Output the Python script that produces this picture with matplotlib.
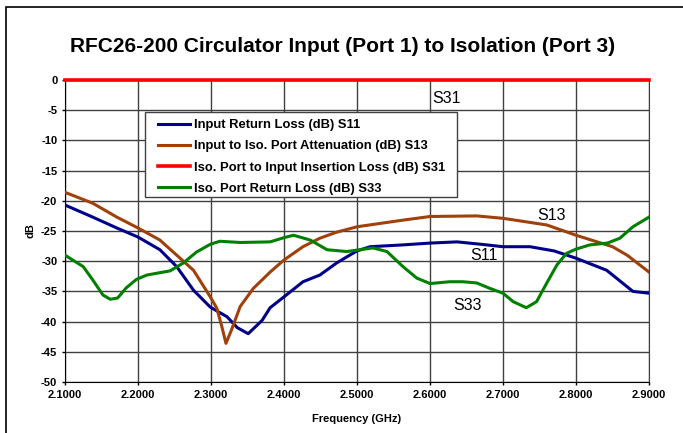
import numpy as np
import matplotlib.pyplot as plt
from matplotlib.patches import Rectangle

plt.rcParams['font.family'] = ['Liberation Sans', 'DejaVu Sans']
plt.rcParams['axes.unicode_minus'] = False

# S11 - input return loss
f_s11 = [2.100, 2.138, 2.171, 2.200, 2.230, 2.253, 2.276, 2.299, 2.322, 2.336, 2.351,
         2.370, 2.381, 2.400, 2.426, 2.449, 2.472, 2.490, 2.500, 2.518, 2.563, 2.600,
         2.637, 2.670, 2.700, 2.737, 2.770, 2.800, 2.842, 2.878, 2.900]
s11 = [-20.7, -22.7, -24.5, -26.0, -28.1, -30.9, -34.8, -37.6, -39.2, -41.0, -42.0,
       -39.8, -37.7, -35.9, -33.4, -32.3, -30.3, -29.0, -28.3, -27.6, -27.3, -27.0,
       -26.8, -27.2, -27.6, -27.6, -28.3, -29.5, -31.5, -35.0, -35.3]

# S13 - input to iso. port attenuation
f_s13 = [2.100, 2.138, 2.171, 2.200, 2.230, 2.253, 2.276, 2.299, 2.308, 2.315, 2.3205,
         2.328, 2.340, 2.358, 2.381, 2.400, 2.426, 2.449, 2.472, 2.500, 2.563, 2.600,
         2.664, 2.700, 2.760, 2.800, 2.850, 2.870, 2.900]
s13 = [-18.6, -20.4, -22.7, -24.5, -26.5, -29.0, -31.5, -35.9, -37.8, -40.9, -43.6,
       -41.4, -37.5, -34.5, -31.8, -29.8, -27.6, -26.2, -25.2, -24.3, -23.2, -22.6,
       -22.5, -22.9, -24.0, -25.7, -27.6, -29.0, -31.8]

# S31 - iso. port to input insertion loss
f_s31 = [2.100, 2.900]
s31 = [0.0, 0.0]

# S33 - iso. port return loss
f_s33 = [2.100, 2.125, 2.138, 2.152, 2.162, 2.172, 2.184, 2.198, 2.212, 2.230, 2.244,
         2.262, 2.280, 2.299, 2.312, 2.340, 2.381, 2.400, 2.413, 2.436, 2.459, 2.486,
         2.522, 2.541, 2.563, 2.582, 2.600, 2.627, 2.645, 2.664, 2.682, 2.700, 2.714,
         2.732, 2.746, 2.760, 2.774, 2.787, 2.800, 2.819, 2.843, 2.860, 2.878, 2.900]
s33 = [-29.0, -30.9, -33.1, -35.6, -36.3, -36.1, -34.4, -33.0, -32.3, -31.9, -31.6,
       -30.3, -28.5, -27.2, -26.7, -26.9, -26.8, -26.1, -25.7, -26.5, -28.1, -28.4,
       -27.8, -28.4, -30.9, -32.8, -33.7, -33.4, -33.4, -33.6, -34.5, -35.3, -36.7,
       -37.7, -36.7, -33.6, -30.6, -28.7, -28.0, -27.3, -27.0, -26.2, -24.3, -22.7]

labels = ['Input Return Loss (dB) S11',
          'Input to Iso. Port Attenuation (dB) S13',
          'Iso. Port to Input Insertion Loss (dB) S31',
          'Iso. Port Return Loss (dB) S33']
colors = ['#00008B', '#A0400A', '#FF0000', '#008000']

xticks = [2.1, 2.2, 2.3, 2.4, 2.5, 2.6, 2.7, 2.8, 2.9]
yticks = list(range(-50, 1, 5))

fig = plt.figure(figsize=(6.83, 4.33), dpi=100)
ax = fig.add_axes([65 / 683, 1 - 382 / 433, 584 / 683, 302 / 433])

# outer chart frame
fig.add_artist(Rectangle((6 / 683, -0.1), 1.2, 1 - 7 / 433 + 0.1, transform=fig.transFigure,
                         fill=False, edgecolor='black', lw=1.2))

ax.plot(f_s11, s11, color=colors[0], lw=2.2, label=labels[0], zorder=4)
ax.plot(f_s13, s13, color=colors[1], lw=2.2, label=labels[1], zorder=4)
ax.plot(f_s31, s31, color=colors[2], lw=2.6, label=labels[2], zorder=5, clip_on=False)
ax.plot(f_s33, s33, color=colors[3], lw=2.2, label=labels[3], zorder=4)

ax.set_xlim(2.1, 2.9)
ax.set_ylim(-50, 0)
ax.set_xticks(xticks)
ax.set_xticklabels(['%.4f' % v for v in xticks])
ax.set_yticks(yticks)
ax.grid(True, color='#404040', lw=1)
ax.tick_params(direction='out', length=2.5, width=1, labelsize=8, pad=3)
for lab in ax.get_xticklabels() + ax.get_yticklabels():
    lab.set_fontweight('bold')
ax.spines['top'].set_visible(False)
ax.spines['right'].set_color('#404040')

ax.set_xlabel('Frequency (GHz)', fontsize=8, fontweight='bold', labelpad=10)
ax.set_ylabel('dB', fontsize=8, fontweight='bold', labelpad=4)
fig.text(0.502, 1 - 47 / 433, 'RFC26-200 Circulator Input (Port 1) to Isolation (Port 3)',
         ha='center', va='center', fontsize=15, fontweight='bold')

# legend box drawn separately so its padding matches the original
ax.add_patch(Rectangle((80 / 584, 1 - 117 / 302), 312 / 584, 85 / 302,
                       transform=ax.transAxes, facecolor='white', edgecolor='#404040',
                       lw=1, zorder=5.5))
leg = ax.legend(loc='upper left', bbox_to_anchor=(93 / 584, 1 - 39 / 302),
                borderaxespad=0, borderpad=0, frameon=False,
                prop={'weight': 'bold', 'size': 9.4}, handlelength=2.45,
                handletextpad=0.3, labelspacing=0.70)
leg.set_zorder(6)

ax.text(2.603, -3.0, 'S31', fontsize=11.5, ha='left', va='center')
ax.text(2.747, -22.5, 'S13', fontsize=11.5, ha='left', va='center')
ax.text(2.655, -29.1, 'S11', fontsize=11.5, ha='left', va='center')
ax.text(2.632, -37.3, 'S33', fontsize=11.5, ha='left', va='center')

fig.savefig('out.png', dpi=100)
